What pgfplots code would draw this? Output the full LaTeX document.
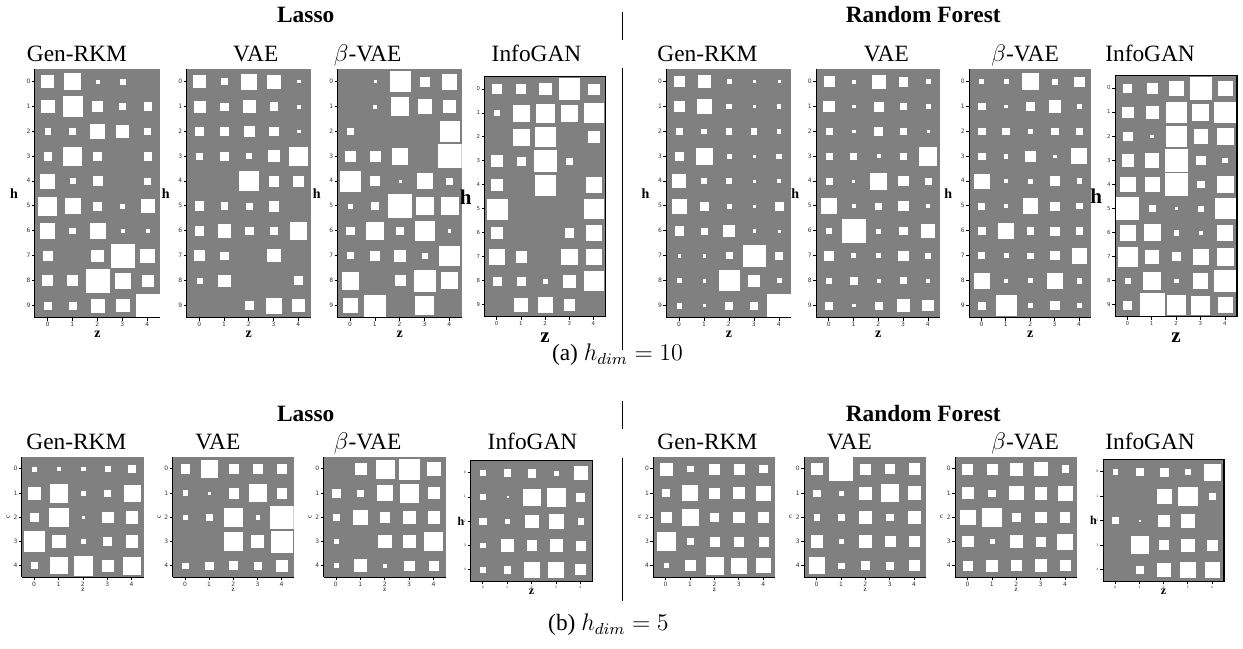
\documentclass[border=0pt]{standalone}
\usepackage{pgfplots}
\pgfplotsset{compat=1.18}
\usepackage{pgfplotstable}
\usepackage{fontspec}
\setmainfont{Liberation Serif}
\newfontfamily\dvs{DejaVu Sans}
\definecolor{hgray}{HTML}{808080}

% one table per panel: row h, columns = size of the white square in z0..z4 (fraction of a cell)
\pgfplotstableread{
h z0 z1 z2 z3 z4
0 .48 .63 .13 .19 0
1 .50 .78 .39 .23 .29
2 .21 .24 .55 .47 .24
3 .29 .71 .32 0 .29
4 .57 .21 .37 0 .24
5 .73 .59 .33 .16 .53
6 .57 .23 .61 .13 .12
7 .35 0 .47 .90 .55
8 .40 .40 .92 .61 .43
9 .27 .27 .53 .50 .93
}\tLG
\pgfplotstableread{
h z0 z1 z2 z3 z4
0 .50 .24 .59 .53 .10
1 .44 .29 .50 .32 .13
2 .32 .32 .40 .35 .11
3 .24 .32 .21 .45 .72
4 0 0 .77 .40 .40
5 .35 .27 .24 .40 0
6 .35 .51 .32 .32 .65
7 .40 .29 0 .49 0
8 .21 .45 0 0 .32
9 0 0 .32 .61 .48
}\tLV
\pgfplotstableread{
h z0 z1 z2 z3 z4
0 0 .10 .81 .35 .59
1 0 .13 .71 .55 .48
2 .24 0 0 0 .77
3 .40 .40 .63 0 .93
4 .79 .37 .08 .61 .24
5 .16 .27 .93 .67 .68
6 .29 .68 .27 .79 .10
7 .24 .37 .45 .19 .79
8 .67 0 .40 .83 .64
9 .55 .85 0 .73 0
}\tLB
\pgfplotstableread{
h z0 z1 z2 z3 z4
0 .36 .39 .47 .86 .44
1 .19 .65 .75 .67 .80
2 0 .65 .80 0 .44
3 .47 .33 .89 .25 0
4 .47 0 .82 0 .64
5 .83 0 0 0 .79
6 .47 0 0 .36 .65
7 .65 .44 0 .65 .60
8 .33 .33 .17 .50 .79
9 0 .54 .61 .44 0
}\tLI
\pgfplotstableread{
h z0 z1 z2 z3 z4
0 .39 .47 .16 .10 .10
1 .43 .55 .19 .10 .13
2 .21 .19 .21 .21 .13
3 .29 .64 .16 .10 .19
4 .52 .21 .21 .10 .13
5 .56 .32 .16 .09 .32
6 .35 .24 .43 .10 .08
7 .10 .10 .24 .87 .27
8 .16 .10 .79 .43 .16
9 .19 .10 .29 .29 .92
}\tRG
\pgfplotstableread{
h z0 z1 z2 z3 z4
0 .40 .13 .53 .35 .16
1 .43 .10 .37 .24 .16
2 .24 .10 .32 .24 .10
3 .24 .24 .13 .27 .70
4 .24 .08 .63 .37 .24
5 .60 .13 .24 .37 .13
6 .19 .91 .16 .29 .53
7 .35 .16 .16 .37 .19
8 .19 .29 .13 .24 .13
9 .29 .10 .27 .50 .43
}\tRV
\pgfplotstableread{
h z0 z1 z2 z3 z4
0 .16 .16 .64 .19 .38
1 .27 .11 .30 .47 .16
2 .27 .27 .19 .25 .22
3 .27 .14 .44 .11 .62
4 .59 .14 .16 .36 .19
5 .25 .14 .59 .33 .22
6 .27 .63 .27 .33 .27
7 .25 .16 .22 .33 .60
8 .60 .11 .16 .63 .19
9 .30 .81 .19 .33 .19
}\tRB
\pgfplotstableread{
h z0 z1 z2 z3 z4
0 .33 .41 .60 .90 .56
1 .44 .49 .81 .67 .86
2 .36 .11 .81 .55 .67
3 .47 .55 .93 .36 .19
4 .60 .58 .92 .27 .64
5 .90 .25 .08 .22 .84
6 .60 .66 .19 .14 .63
7 .79 .55 .33 .60 .68
8 .22 .68 .16 .58 .86
9 .33 .99 .78 .75 .60
}\tRI
% h_dim = 5
\pgfplotstableread{
h z0 z1 z2 z3 z4
0 .16 .11 .14 .19 .27
1 .51 .73 .16 .27 .66
2 .36 .77 .08 .44 .47
3 .80 .52 .19 .33 .47
4 .25 .67 .77 .44 .70
}\bLG
\pgfplotstableread{
h z0 z1 z2 z3 z4
0 .36 .69 .39 .39 .39
1 .19 .08 .39 .69 .39
2 .19 .28 .74 .14 .94
3 0 0 .74 .50 .88
4 .22 .30 .33 .28 .47
}\bLV
\pgfplotstableread{
h z0 z1 z2 z3 z4
0 0 .44 .75 .82 .55
1 .33 .27 .63 .75 .47
2 .22 .60 .38 .52 .47
3 .16 0 .52 .49 .74
4 .16 .49 .14 .38 .36
}\bLB
\pgfplotstableread{
h z0 z1 z2 z3 z4
0 .22 .27 .33 .16 .52
1 .22 .05 .68 .75 .33
2 .27 .16 .52 .57 .22
3 .19 .52 .41 .52 .38
4 .22 .27 .61 .63 .41
}\bLI
\pgfplotstableread{
h z0 z1 z2 z3 z4
0 .49 .22 .41 .41 .30
1 .30 .62 .41 .47 .58
2 .41 .63 .33 .44 .41
3 .74 .25 .36 .36 .38
4 .16 .41 .70 .63 .58
}\bRG
\pgfplotstableread{
h z0 z1 z2 z3 z4
0 .47 .95 .41 .38 .44
1 .27 .16 .49 .71 .52
2 .22 .25 .49 .27 .49
3 .47 .16 .49 .41 .44
4 .65 .22 .33 .30 .41
}\bRV
\pgfplotstableread{
h z0 z1 z2 z3 z4
0 .41 .41 .49 .52 .27
1 .44 .27 .55 .49 .58
2 .60 .77 .36 .44 .38
3 .44 .16 .47 .36 .62
4 .36 .44 .41 .49 .41
}\bRB
\pgfplotstableread{
h z0 z1 z2 z3 z4
0 .19 .30 .33 .19 .65
1 0 0 .58 .77 .28
2 .25 .06 .44 .55 0
3 0 .69 .36 .52 .41
4 0 .28 .52 .61 .61
}\bRI

% white squares, side = value * cell; #2 = half a cell in pt
\newcommand{\hinton}[2]{%
  \pgfplotsinvokeforeach{0,...,4}{%
    \addplot[scatter, only marks, mark=square*, draw=white, fill=white,
      mark options={draw=white, fill=white, line width=0.05pt},
      scatter/use mapped color={draw=white, fill=white},
      visualization depends on={\thisrow{z##1}*#2 \as \msz},
      scatter/@pre marker code/.append style={/tikz/mark size=\msz pt}]
      table[x expr=##1, y expr=-\thisrow{h}] {#1};
  }}

\pgfplotsset{
  hin/.style={
    scale only axis, anchor=north west,
    xmin=-0.5, xmax=4.5,
    axis background/.style={fill=hgray},
    axis on top, clip marker paths=true,
    xtick={0,...,4},
    tick align=outside, major tick length=1.5pt,
    tick style={black, line width=0.3pt},
    /pgf/number format/assume math mode=true,
    tick label style={font=\dvs\fontsize{3}{3}\selectfont, inner sep=0.6pt, black!80},
    every axis y label/.style={at={(axis description cs:0,0.5)}, anchor=center},
    every axis x label/.style={at={(axis description cs:0.5,0)}, anchor=center},
  },
  ten/.style={ymin=-9.5, ymax=0.5, ytick={-9,...,0}, yticklabels={9,8,7,6,5,4,3,2,1,0}},
  five/.style={ymin=-4.5, ymax=0.5, ytick={-4,...,0}, yticklabels={4,3,2,1,0}},
  open/.style={axis x line*=bottom, axis y line*=left, axis line style={-, black, line width=0.5pt}},
  box/.style={axis line style={black, line width=0.6pt}, xtick pos=left, ytick pos=left},
  labtop/.style={ylabel={$\mathbf{h}$}, xlabel={$\mathbf{z}$},
    ylabel style={font=\fontsize{7}{7}\selectfont, xshift=-10.5pt},
    xlabel style={font=\fontsize{7}{7}\selectfont, yshift=-8.2pt}},
  labinfo/.style={ylabel={$\mathbf{h}$}, xlabel={$\mathbf{z}$},
    ylabel style={font=\fontsize{10.5}{10.5}\selectfont, xshift=-9.5pt},
    xlabel style={font=\fontsize{10.5}{10.5}\selectfont, yshift=-10.3pt},
    tick label style={font=\dvs\fontsize{2.7}{2.7}\selectfont}},
  labbot/.style={ylabel={c}, xlabel={z},
    ylabel style={font=\fontsize{3.5}{3.5}\selectfont, xshift=-6.8pt, rotate=#1},
    xlabel style={font=\fontsize{3.5}{3.5}\selectfont, yshift=-6.4pt}},
  labbinfo/.style={ylabel={$\mathbf{h}$}, xlabel={$\mathbf{z}$},
    ylabel style={font=\fontsize{6}{6}\selectfont, xshift=-4.8pt},
    xlabel style={font=\fontsize{6}{6}\selectfont, yshift=-5.2pt},
    tick label style={font=\dvs\fontsize{1.6}{1.6}\selectfont}},
}

\begin{document}
\begin{tikzpicture}
\path (0,0) rectangle (621.5pt,-322pt);
\tikzset{ttl/.style={anchor=base, font=\fontsize{11.7}{14}\selectfont}}

% ---------------- (a) h_dim = 10 ----------------
\node[ttl, font=\fontsize{11.7}{14}\selectfont\bfseries] at (152.5pt,-9pt) {Lasso};
\node[ttl, font=\fontsize{11.7}{14}\selectfont\bfseries] at (461.5pt,-9pt) {Random Forest};
\node[ttl] at (38pt,-28.5pt) {Gen-RKM};
\node[ttl] at (127.5pt,-28.5pt) {VAE};
\node[ttl] at (183.5pt,-28.5pt) {$\beta$-VAE};
\node[ttl] at (268pt,-28.5pt) {InfoGAN};
\node[ttl] at (353.5pt,-28.5pt) {Gen-RKM};
\node[ttl] at (443pt,-28.5pt) {VAE};
\node[ttl] at (512.5pt,-28.5pt) {$\beta$-VAE};
\node[ttl] at (575pt,-28.5pt) {InfoGAN};
\draw[black, line width=0.5pt] (311pt,-3.5pt) -- (311pt,-17.5pt);
\draw[black, line width=0.5pt] (311pt,-31.5pt) -- (311pt,-172.5pt);

\begin{axis}[hin, ten, open, labtop, at={(17pt,-32pt)}, width=62.5pt, height=124.5pt]
\hinton{\tLG}{6.25}
\end{axis}
\begin{axis}[hin, ten, open, labtop, at={(93pt,-32pt)}, width=62pt, height=124.5pt]
\hinton{\tLV}{6.2}
\end{axis}
\begin{axis}[hin, ten, open, labtop, at={(168.5pt,-32pt)}, width=62pt, height=124.5pt]
\hinton{\tLB}{6.2}
\end{axis}
\begin{axis}[hin, ten, box, labinfo, at={(242pt,-36pt)}, width=60.5pt, height=120pt]
\hinton{\tLI}{6.0}
\end{axis}
\begin{axis}[hin, ten, open, labtop, at={(333pt,-32pt)}, width=62.5pt, height=124.5pt]
\hinton{\tRG}{6.25}
\end{axis}
\begin{axis}[hin, ten, open, labtop, at={(408pt,-32pt)}, width=62pt, height=124.5pt]
\hinton{\tRV}{6.2}
\end{axis}
\begin{axis}[hin, ten, open, labtop, at={(484.5pt,-32pt)}, width=61pt, height=124.5pt]
\hinton{\tRB}{6.1}
\end{axis}
\begin{axis}[hin, ten, box, labinfo, at={(557.5pt,-35.5pt)}, width=61pt, height=120.5pt]
\hinton{\tRI}{6.05}
\end{axis}
\node[ttl] at (308.5pt,-178pt) {(a) $h_{dim}=10$};

% ---------------- (b) h_dim = 5 ----------------
\node[ttl, font=\fontsize{11.7}{14}\selectfont\bfseries] at (152.5pt,-208.5pt) {Lasso};
\node[ttl, font=\fontsize{11.7}{14}\selectfont\bfseries] at (461.5pt,-208.5pt) {Random Forest};
\node[ttl] at (37.75pt,-222.5pt) {Gen-RKM};
\node[ttl] at (108.5pt,-222.5pt) {VAE};
\node[ttl] at (183.5pt,-222.5pt) {$\beta$-VAE};
\node[ttl] at (266pt,-222.5pt) {InfoGAN};
\node[ttl] at (353.5pt,-222.5pt) {Gen-RKM};
\node[ttl] at (424.5pt,-222.5pt) {VAE};
\node[ttl] at (512.5pt,-222.5pt) {$\beta$-VAE};
\node[ttl] at (575pt,-222.5pt) {InfoGAN};
\draw[black, line width=0.5pt] (311pt,-198pt) -- (311pt,-212pt);
\draw[black, line width=0.5pt] (311pt,-226.5pt) -- (311pt,-298.5pt);

\begin{axis}[hin, five, open, labbot=90, at={(10.5pt,-226pt)}, width=61pt, height=60.5pt]
\hinton{\bLG}{6.05}
\end{axis}
\begin{axis}[hin, five, open, labbot=90, at={(86pt,-226pt)}, width=60.5pt, height=60.5pt]
\hinton{\bLV}{6.05}
\end{axis}
\begin{axis}[hin, five, open, labbot=90, at={(161.5pt,-226pt)}, width=61pt, height=60.5pt]
\hinton{\bLB}{6.05}
\end{axis}
\begin{axis}[hin, five, box, labbinfo, at={(235pt,-228pt)}, width=61pt, height=60.5pt]
\hinton{\bLI}{6.05}
\end{axis}
\begin{axis}[hin, five, open, labbot=0, at={(326.5pt,-226pt)}, width=61pt, height=60.5pt]
\hinton{\bRG}{6.05}
\end{axis}
\begin{axis}[hin, five, open, labbot=0, at={(402pt,-226pt)}, width=61pt, height=60.5pt]
\hinton{\bRV}{6.05}
\end{axis}
\begin{axis}[hin, five, open, labbot=0, at={(477.5pt,-226pt)}, width=61pt, height=60.5pt]
\hinton{\bRB}{6.05}
\end{axis}
\begin{axis}[hin, five, box, labbinfo, at={(551.5pt,-227.5pt)}, width=60.5pt, height=61pt]
\hinton{\bRI}{6.05}
\end{axis}
\node[ttl] at (304pt,-313pt) {(b) $h_{dim}=5$};
\end{tikzpicture}
\end{document}
